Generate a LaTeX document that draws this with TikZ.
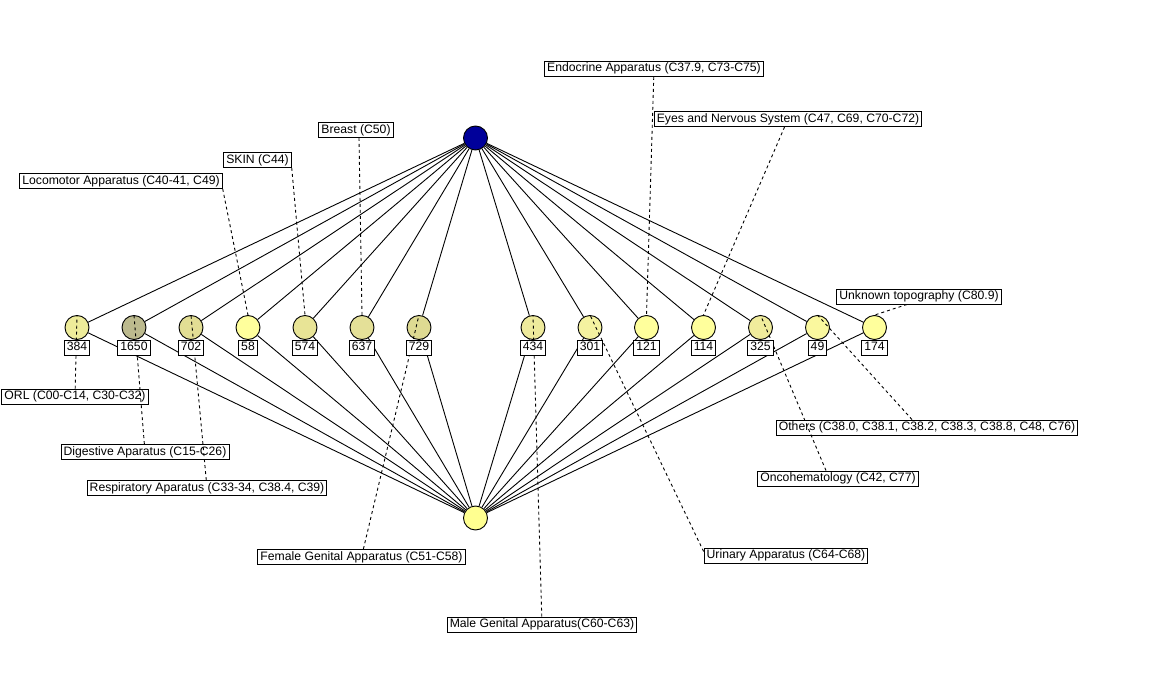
\documentclass[tikz,border=0pt]{standalone}
\usepackage{fontspec}
\setmainfont{Liberation Sans}
\usetikzlibrary{positioning}
\definecolor{rootBlue}{HTML}{00009A}
\definecolor{sinkYellow}{HTML}{FFFF90}
\definecolor{tone384}{HTML}{EEEC9A}
\definecolor{tone1650}{HTML}{BCBA8E}
\definecolor{tone702}{HTML}{E2DE94}
\definecolor{tone58}{HTML}{FFFF9C}
\definecolor{tone574}{HTML}{E8E496}
\definecolor{tone637}{HTML}{E4E098}
\definecolor{tone729}{HTML}{DEDA92}
\definecolor{tone434}{HTML}{EEEA9C}
\definecolor{tone301}{HTML}{F4F2A0}
\definecolor{tone121}{HTML}{FFFF9C}
\definecolor{tone114}{HTML}{FFFF9C}
\definecolor{tone325}{HTML}{F0EC9C}
\definecolor{tone49}{HTML}{FAF89E}
\definecolor{tone174}{HTML}{FFFF9C}

\begin{document}
\begin{tikzpicture}[x=1pt, y=-1pt,
    site/.style={circle, draw, line width=0.9pt, minimum size=24pt, inner sep=0pt},
    count/.style={draw, fill=white, line width=0.9pt, inner xsep=2.6pt, inner ysep=1.5pt,
        text height=9pt, text depth=3pt, font=\fontsize{12.2}{14}\selectfont},
    tag/.style={count},
    edge/.style={line width=0.9pt},
    leader/.style={line width=0.9pt, dash pattern=on 3pt off 3pt}]

    \useasboundingbox (0,0) rectangle (1152,693);

    % source, sink and the row of sites
    \node[site, fill=rootBlue] (top) at (475.5,138) {};
    \node[site, fill=sinkYellow] (bot) at (475.5,518) {};
    \foreach \id/\x in {384/77, 1650/134, 702/191, 58/248, 574/305, 637/362, 729/419,
                        434/533, 301/590, 121/646.5, 114/703.5, 325/760.5, 49/817.5, 174/874.5}
        \node[site, fill=tone\id] (c\id) at (\x,327.5) {};

    % category labels
    \node[tag] (endo) at (654,69) {Endocrine Apparatus (C37.9, C73-C75)};
    \node[tag] (eyes) at (788,119) {Eyes and Nervous System (C47, C69, C70-C72)};
    \node[tag] (breast) at (356,130) {Breast (C50)};
    \node[tag] (skin) at (257.5,160) {SKIN (C44)};
    \node[tag] (loco) at (121,181) {Locomotor Apparatus (C40-41, C49)};
    \node[tag] (unk) at (919,296.5) {Unknown topography (C80.9)};
    \node[tag] (others) at (927,427.5) {Others (C38.0, C38.1, C38.2, C38.3, C38.8, C48, C76)};
    \node[tag] (onco) at (838,478.5) {Oncohematology (C42, C77)};
    \node[tag] (uri) at (786,555.5) {Urinary Apparatus (C64-C68)};
    \node[tag] (male) at (542,624.5) {Male Genital Apparatus(C60-C63)};
    \node[tag] (female) at (361.5,557) {Female Genital Apparatus (C51-C58)};
    \node[tag] (resp) at (207,488) {Respiratory Aparatus (C33-34, C38.4, C39)};
    \node[tag] (dig) at (145,452) {Digestive Aparatus (C15-C26)};
    \node[tag] (orl) at (75,396.5) {ORL (C00-C14, C30-C32)};

    % solid edges
    \foreach \id in {384,1650,702,58,574,637,729,434,301,121,114,325,49,174}
        \draw[edge] (top) -- (c\id) (c\id) -- (bot);

    % dashed leaders
    \draw[leader] (endo) -- (c121.north);
    \draw[leader] (eyes) -- (c114.north);
    \draw[leader] ([xshift=3pt]breast.south) -- (c637.north);
    \draw[leader] (skin.south east) -- (c574.north);
    \draw[leader] (loco.south east) -- (c58.north);
    \draw[leader] ([xshift=-12pt]unk.south) -- (c174.north);
    \draw[leader] ([xshift=-15pt]others.north) -- (c49.north);
    \draw[leader] ([xshift=-12pt]onco.north) -- (c325.north);
    \draw[leader] ([yshift=4pt]uri.west) -- (c301.north);
    \draw[leader] (male) -- (c434.north);
    \draw[leader] (female) -- (c729.north);
    \draw[leader] (resp) -- (c702.north);
    \draw[leader] (dig) -- (c1650.north);
    \draw[leader] (orl) -- (c384.north);

    % counts under the sites
    \foreach \id in {384,1650,702,58,574,637,729,434,301,121,114,325,49,174}
        \node[count, below=0pt of c\id] (n\id) {\id};

\end{tikzpicture}
\end{document}
